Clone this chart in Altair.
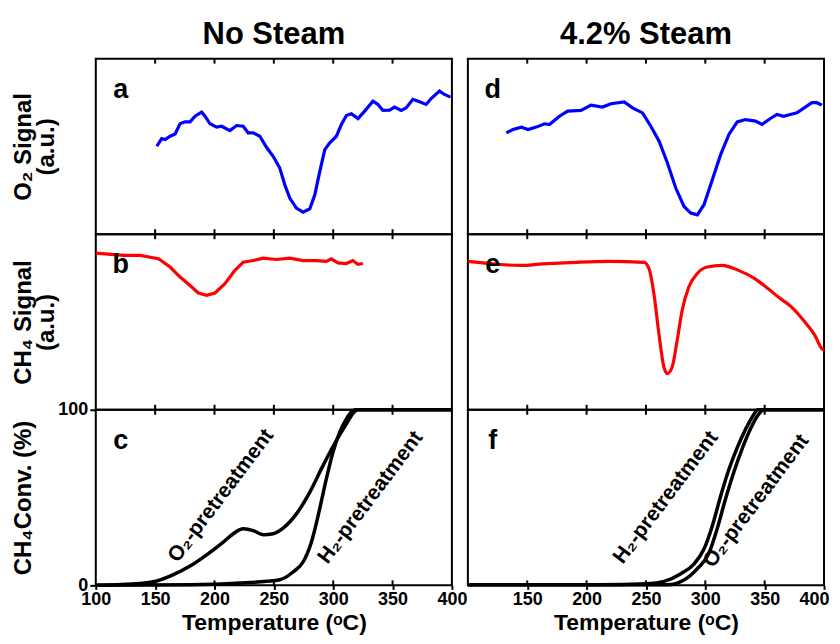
import altair as alt
import pandas as pd

FONT = "Liberation Sans"
W, H = 357, 176

tick_vals = [150, 200, 250, 300, 350]
x_labels_left = [100, 150, 200, 250, 300, 350, 400]
x_labels_right = [150, 200, 250, 300, 350, 400]

# Panel a: O2 signal, no steam
a_t = [151.4, 155.5, 158.4, 162.6, 166.8, 171.0, 175.2, 179.4, 183.6, 189.2,
       192.0, 196.2, 201.8, 206.0, 213.0, 218.6, 224.2, 228.4, 232.6, 238.2,
       243.8, 249.4, 255.0, 259.2, 263.4, 269.0, 274.6, 280.3, 284.5, 288.7,
       292.9, 297.1, 302.7, 306.9, 311.1, 315.3, 320.9, 326.5, 333.5, 337.7,
       341.9, 347.5, 351.7, 357.3, 361.5, 367.1, 372.7, 378.3, 382.5, 389.5,
       393.7, 398.8]
a_v = [50.1, 54.5, 53.9, 55.8, 57.1, 62.9, 64.0, 64.0, 67.2, 69.5,
       67.2, 62.9, 61.0, 61.5, 59.0, 61.9, 61.5, 57.7, 57.7, 55.8,
       49.5, 44.4, 37.7, 28.2, 20.6, 14.9, 12.6, 14.5, 22.5, 35.8,
       48.2, 52.0, 55.8, 62.5, 67.6, 68.6, 65.9, 70.1, 75.8, 73.9,
       70.5, 70.7, 72.4, 70.5, 72.0, 76.8, 75.4, 73.9, 77.3, 81.5,
       79.6, 78.1]

# Panel b: CH4 signal, no steam
b_t = [100, 123.4, 137.4, 152.8, 162.6, 171, 179.4, 186.4, 193.4, 200.4,
       208.8, 217.2, 224.2, 232.6, 241, 252.2, 263.4, 274.6, 285.8, 294.2,
       298.4, 304, 311, 316.6, 320.8, 325]
b_v = [89.2, 87.9, 87.9, 86, 81.3, 75.6, 70.8, 66.5, 65.2, 66.5,
       71.8, 79.4, 84.1, 85, 86.4, 85.6, 86.4, 85, 85, 84.5,
       86, 83.7, 83.3, 85, 82.8, 83.3]

# Panel c: CH4 conversion, no steam
c_o2_t = [100, 137.4, 151.4, 165.4, 179.4, 193.4, 207.4, 215.8, 224.2, 232.6,
          241, 249.4, 257.8, 269, 280.2, 291.4, 302.6, 311, 318, 320.8, 400]
c_o2_v = [0, 1, 2.5, 6.1, 11, 17.4, 24.6, 29.4, 32.2, 31.2,
          28.8, 29.4, 32.6, 40.7, 53, 68.2, 82.4, 91.9, 98.9, 100, 100]
c_h2_t = [100, 179.4, 221.4, 243.8, 255, 266.2, 274.6, 281.6, 288.6, 294.2,
          299.8, 305.4, 311, 316.6, 319.4, 400]
c_h2_v = [0, 0.3, 1.3, 2.3, 3.2, 7.6, 13.3, 24.6, 43.6, 60.6,
          75.8, 87.1, 94.7, 99.4, 100, 100]

# Panel d: O2 signal, 4.2% steam
d_t = [132.4, 138, 145, 150.6, 157.6, 164.6, 168.7, 177.1, 184.1, 195.3,
       203.7, 213.4, 220.5, 231.7, 238.7, 247.1, 254.1, 261.1, 268.1, 275.1,
       282.1, 287.7, 293.3, 298.9, 305.9, 312.9, 319.9, 326.9, 333.9, 342.3,
       347.8, 354.8, 360.4, 366, 371.6, 377.2, 384.2, 389.8, 394, 398.2]
d_v = [57.7, 59.6, 61, 59.6, 61, 62.9, 62.5, 67.2, 70.1, 70.5,
       73.5, 72.4, 74.3, 75.4, 72, 69.1, 61.5, 53, 40.6, 26.3,
       15.8, 12, 11, 16.8, 31, 45.3, 56.8, 64, 65.3, 64.4,
       62.5, 65.9, 68.2, 67.2, 68.2, 69.1, 72.4, 74.9, 74.9, 73.5]

# Panel e: CH4 signal, 4.2% steam
e_t = [100, 121.2, 143.6, 163.1, 191.1, 219, 248.4, 252.6, 256.7, 260.9,
       265.1, 267.9, 272.1, 276.3, 280.5, 286.1, 293.1, 301.5, 314, 328,
       342, 353.1, 361.5, 372.7, 383.9, 392.3, 397.9, 400]
e_v = [84.5, 83.1, 82.2, 83.1, 84, 84.5, 84, 80.3, 66.1, 43.4,
       24.4, 20.6, 24.4, 39.6, 56.6, 69.9, 77.5, 81.3, 82.2, 79.4,
       74.6, 68.9, 64.2, 58.5, 50, 42.4, 35, 34]

# Panel f: CH4 conversion, 4.2% steam
f_h2_t = [100, 153.6, 209.5, 251.4, 265.4, 279.4, 290.6, 299, 306, 313,
          320, 327, 334, 341, 343.7, 400]
f_h2_v = [0.3, 0.3, 0.3, 0.9, 2.3, 6.6, 12.3, 20.8, 34.1, 51.1,
          66.3, 78.6, 89, 97.5, 100, 100]
f_o2_t = [100, 200, 268, 282, 293.3, 303.1, 310, 317, 324, 331,
          338, 345, 349.2, 400]
f_o2_v = [0.3, 0.3, 0.3, 3, 9.5, 18.4, 32.3, 49.2, 64.4, 77.7,
          89, 97.5, 100, 100]

# Annotations
c_ann_text = ["O\u2082-pretreatment", "H\u2082-pretreatment"]
c_ann_t = [205.5, 331.5]
c_ann_v = [51, 50]
f_ann_text = ["H\u2082-pretreatment", "O\u2082-pretreatment"]
f_ann_t = [266.8, 343]
f_ann_v = [50, 48]

ticks_df = pd.DataFrame({"t": tick_vals})


def series_df(pairs):
    frames = []
    for name, t, v in pairs:
        frames.append(pd.DataFrame({"t": t, "v": v, "s": name}))
    return pd.concat(frames, ignore_index=True)


def y_axis(title, labels=False):
    kw = dict(title=title, grid=False, domain=False,
              titleX=-84, titleY=H / 2, titleAngle=270, titleBaseline="top",
              titleAlign="center", titleFontSize=24, titleLineHeight=23)
    if labels:
        kw.update(values=[0, 100], labelFontSize=18, tickSize=6, tickWidth=2,
                  labelPadding=2, format="d")
    else:
        kw.update(labels=False, ticks=False)
    return alt.Axis(**kw)


def x_axis(values, flush):
    kw = dict(values=values, title="Temperature (\u1d52C)", grid=False,
              domain=False, labelFontSize=18, titleFontSize=23,
              tickSize=4, tickWidth=2, labelOverlap=False, labelPadding=1,
              titlePadding=3, format="d")
    if flush:
        kw.update(labelFlush=True, labelFlushOffset=5)
    else:
        kw.update(labelFlush=False)
    return alt.Axis(**kw)


def make_panel(df, color, letter, yaxis, xaxis, title=None, ann=None,
               interp="linear", sw=3.2):
    x = alt.X("t:Q", scale=alt.Scale(domain=[100, 400], nice=False), axis=xaxis)
    y = alt.Y("v:Q", scale=alt.Scale(domain=[0, 100], nice=False), axis=yaxis)
    line = alt.Chart(df).mark_line(color=color, strokeWidth=sw,
                                   interpolate=interp).encode(
        x=x, y=y, detail="s:N")
    top_t = alt.Chart(ticks_df).mark_rule(color="black", strokeWidth=2).encode(
        x=x, y=alt.value(0), y2=alt.value(5))
    bot_t = alt.Chart(ticks_df).mark_rule(color="black", strokeWidth=2).encode(
        x=x, y=alt.value(H), y2=alt.value(H - 5))
    lab = alt.Chart(pd.DataFrame({"l": [letter]})).mark_text(
        font=FONT, fontSize=27, fontWeight="bold", align="center",
        baseline="middle", color="black").encode(
        x=alt.value(25), y=alt.value(31), text="l:N")
    layers = [line, top_t, bot_t, lab]
    if ann is not None:
        txt = alt.Chart(ann).mark_text(
            font=FONT, fontSize=21, fontWeight="bold", angle=307,
            align="center", baseline="middle", color="black").encode(
            x=x, y=y, text="txt:N")
        layers.append(txt)
    ch = alt.layer(*layers).properties(width=W, height=H)
    if title:
        ch = ch.properties(title=alt.TitleParams(
            title, font=FONT, fontSize=31, fontWeight="bold", anchor="middle",
            offset=7, color="black"))
    return ch


pa = make_panel(series_df([("a", a_t, a_v)]), "#0000ff", "a",
                y_axis(["O\u2082 Signal", "(a.u.)"]), None, title="No Steam")
pd_ = make_panel(series_df([("d", d_t, d_v)]), "#0000ff", "d",
                 None, None, title="4.2% Steam")
pb = make_panel(series_df([("b", b_t, b_v)]), "#ff0000", "b",
                y_axis(["CH\u2084 Signal", "(a.u.)"]), None)
pe = make_panel(series_df([("e", e_t, e_v)]), "#ff0000", "e", None, None,
                interp="monotone")
pc = make_panel(series_df([("O2", c_o2_t, c_o2_v), ("H2", c_h2_t, c_h2_v)]),
                "black", "c", y_axis("CH\u2084Conv. (%)", labels=True),
                x_axis(x_labels_left, False),
                ann=pd.DataFrame({"txt": c_ann_text, "t": c_ann_t, "v": c_ann_v}),
                interp="monotone", sw=3.5)
pf = make_panel(series_df([("H2", f_h2_t, f_h2_v), ("O2", f_o2_t, f_o2_v)]),
                "black", "f", None, x_axis(x_labels_right, True),
                ann=pd.DataFrame({"txt": f_ann_text, "t": f_ann_t, "v": f_ann_v}),
                interp="monotone", sw=3.5)

chart = alt.concat(pa, pd_, pb, pe, pc, pf, columns=2,
                   spacing={"row": 0, "column": 16}, bounds="flush").properties(
    padding={"left": 3, "top": 9, "right": 0, "bottom": 0}
).configure_view(stroke="black", strokeWidth=2).configure_axis(
    labelFont=FONT, titleFont=FONT, labelFontWeight="bold",
    titleFontWeight="bold", labelColor="black", titleColor="black",
    tickColor="black")

chart.save("out.html", embed_options={"renderer": "svg", "actions": False})
